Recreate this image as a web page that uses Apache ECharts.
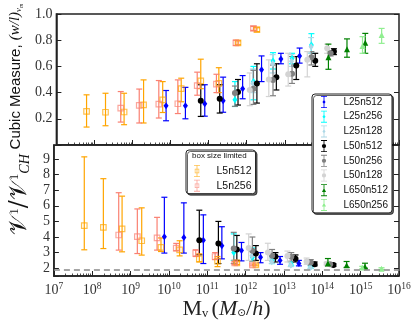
<!DOCTYPE html>
<html>
<head>
<meta charset="utf-8">
<script src="https://cdn.jsdelivr.net/npm/echarts@6/dist/echarts.min.js"></script>
<style>
  html, body { margin: 0; padding: 0; background: #fff; }
  #main { width: 416px; height: 321px; }
</style>
</head>
<body>
<div id="main"></div>
<script>
// ---- data (mass in M_sun/h) ----
const L25n512_mass  = [7.6e9, 2.45e10, 7.9e10, 2.4e11, 7.8e11, 2.45e12, 7.9e12, 2.45e13];
const L25n512_cubic = [0.30, 0.30, 0.315, 0.337, 0.43, 0.574, 0.657, 0.68];
const L25n512_cubicErr = [[0.185,0.416],[0.20,0.44],[0.22,0.46],[0.25,0.518],[0.353,0.53],[0.484,0.68],[0.62,0.70],[0.625,0.74]];
const L25n512_ratio = [4.02, 3.97, 3.8, 3.44, 3.14, 2.7, 2.5, 2.3];
const L25n512_ratioErr = [[2.97,6.55],[2.97,6.19],[2.3,5.42],[2.6,4.66],[2.47,3.65],[2.35,3.0],[2.25,2.75],[2.15,2.5]];

const L25n256_mass  = [4.9e11, 1.5e12, 4.9e12, 1.55e13, 5.0e13];
const L25n256_cubic = [0.345, 0.484, 0.642, 0.66, 0.764];
const L25n256_cubicErr = [[0.294,0.484],[0.345,0.60],[0.58,0.705],[0.62,0.70],[0.70,0.85]];
const L25n256_ratio = [3.0, 2.69, 2.47, 2.26, 2.09];
const L25n256_ratioErr = [[2.5,4.2],[2.45,3.3],[2.3,2.75],[2.15,2.4],[2.0,2.2]];

const L25n128_mass  = [1.45e12, 4.8e12, 1.5e13, 4.9e13];
const L25n128_cubic = [0.47, 0.62, 0.64, 0.75];
const L25n128_cubicErr = [[0.40,0.58],[0.55,0.69],[0.60,0.69],[0.70,0.82]];
const L25n128_ratio = [2.8, 2.42, 2.2, 2.05];
const L25n128_ratioErr = [[2.5,3.1],[2.3,2.6],[2.1,2.35],[1.98,2.15]];

const L50n512_mass  = [6.2e10, 1.95e11, 5.9e11, 1.85e12, 6.0e12, 2.0e13, 6.3e13, 1.95e14];
const L50n512_cubic = [0.337, 0.353, 0.404, 0.47, 0.518, 0.606, 0.644, 0.713];
const L50n512_cubicErr = [[0.218,0.46],[0.244,0.46],[0.305,0.50],[0.32,0.62],[0.42,0.62],[0.50,0.675],[0.60,0.70],[0.69,0.735]];
const L50n512_ratio = [3.8, 3.59, 3.2, 2.94, 2.75, 2.6, 2.26, 2.2];
const L50n512_ratioErr = [[2.86,5.72],[2.3,5.0],[2.5,4.1],[2.5,3.45],[2.4,3.0],[2.4,2.85],[2.15,2.4],[2.12,2.28]];

const L50n256_mass  = [4.9e11, 1.5e12, 4.9e12, 1.55e13, 5.0e13, 1.6e14];
const L50n256_cubic = [0.396, 0.43, 0.497, 0.543, 0.67, 0.70];
const L50n256_cubicErr = [[0.295,0.45],[0.31,0.57],[0.376,0.61],[0.47,0.675],[0.611,0.713],[0.68,0.72]];
const L50n256_ratio = [3.27, 3.12, 2.8, 2.74, 2.36, 2.26];
const L50n256_ratioErr = [[2.3,4.3],[2.47,4.0],[2.47,3.2],[2.45,3.0],[2.2,2.55],[2.18,2.34]];

const L50n128_mass  = [1.2e12, 3.8e12, 1.23e13, 3.9e13, 1.3e14];
const L50n128_cubic = [0.42, 0.50, 0.54, 0.65, 0.739];
const L50n128_cubicErr = [[0.30,0.55],[0.37,0.65],[0.45,0.70],[0.52,0.713],[0.70,0.77]];
const L50n128_ratio = [3.3, 3.0, 2.79, 2.43, 2.28];
const L50n128_ratioErr = [[2.5,4.2],[2.5,3.6],[2.4,3.1],[2.25,2.65],[2.2,2.38]];

const L650n512_mass  = [1.4e14, 4.3e14, 1.3e15];
const L650n512_cubic = [0.67, 0.73, 0.78];
const L650n512_cubicErr = [[0.578,0.77],[0.67,0.81],[0.70,0.852]];
const L650n512_ratio = [2.32, 2.19, 2.1];
const L650n512_ratioErr = [[2.12,2.62],[2.05,2.43],[2.0,2.32]];

const L650n256_mass  = [1.1e15, 3.5e15];
const L650n256_cubic = [0.756, 0.84];
const L650n256_cubicErr = [[0.70,0.827],[0.776,0.89]];
const L650n256_ratio = [2.04, 1.97];
const L650n256_ratioErr = [[1.96,2.12],[1.92,2.03]];

const L5n512_mass  = [6.2e7, 1.95e8, 6.0e8, 1.95e9, 6.2e9, 1.9e10, 6.2e10, 1.85e11, 5.9e11, 1.85e12];
const L5n512_cubic = [0.256, 0.25, 0.252, 0.306, 0.345, 0.43, 0.49, 0.47, 0.78, 0.88];
const L5n512_cubicErr = [[0.137,0.383],[0.147,0.395],[0.155,0.395],[0.168,0.497],[0.248,0.484],[0.33,0.51],[0.43,0.655],[0.40,0.59],[0.765,0.795],[0.865,0.895]];
const L5n512_ratio = [4.73, 4.62, 4.52, 3.76, 3.33, 3.18, 2.6, 2.45, 2.34, 2.21];
const L5n512_ratioErr = [[3.18,9.14],[3.26,7.74],[3.05,6.62],[2.84,5.87],[3.07,3.94],[2.79,3.76],[2.4,2.92],[2.1,2.75],[2.24,2.42],[2.15,2.27]];

const L5n256_mass  = [4.9e8, 1.5e9, 4.9e9, 1.55e10, 5.0e10, 1.6e11, 5.2e11, 1.5e12];
const L5n256_cubic = [0.282, 0.302, 0.312, 0.315, 0.454, 0.465, 0.78, 0.89];
const L5n256_cubicErr = [[0.175,0.408],[0.168,0.427],[0.206,0.492],[0.24,0.497],[0.38,0.556],[0.40,0.54],[0.76,0.80],[0.875,0.905]];
const L5n256_ratio = [4.13, 4.02, 3.94, 3.29, 2.97, 2.75, 2.34, 2.21];
const L5n256_ratioErr = [[3.16,6.84],[2.94,5.8],[3.16,5.26],[3.12,3.59],[2.75,3.18],[2.55,3.0],[2.25,2.42],[2.15,2.27]];

const CH_RATIO_REF = 1.87;   // dashed reference line in lower panel
const X_MIN = 1e7, X_MAX = 1e16;

const sims = [
  { name: 'L25n512',  mass: L25n512_mass,  cubic: L25n512_cubic,  cubicErr: L25n512_cubicErr,  ratio: L25n512_ratio,  ratioErr: L25n512_ratioErr },
  { name: 'L25n256',  mass: L25n256_mass,  cubic: L25n256_cubic,  cubicErr: L25n256_cubicErr,  ratio: L25n256_ratio,  ratioErr: L25n256_ratioErr },
  { name: 'L25n128',  mass: L25n128_mass,  cubic: L25n128_cubic,  cubicErr: L25n128_cubicErr,  ratio: L25n128_ratio,  ratioErr: L25n128_ratioErr },
  { name: 'L50n512',  mass: L50n512_mass,  cubic: L50n512_cubic,  cubicErr: L50n512_cubicErr,  ratio: L50n512_ratio,  ratioErr: L50n512_ratioErr },
  { name: 'L50n256',  mass: L50n256_mass,  cubic: L50n256_cubic,  cubicErr: L50n256_cubicErr,  ratio: L50n256_ratio,  ratioErr: L50n256_ratioErr },
  { name: 'L50n128',  mass: L50n128_mass,  cubic: L50n128_cubic,  cubicErr: L50n128_cubicErr,  ratio: L50n128_ratio,  ratioErr: L50n128_ratioErr },
  { name: 'L650n512', mass: L650n512_mass, cubic: L650n512_cubic, cubicErr: L650n512_cubicErr, ratio: L650n512_ratio, ratioErr: L650n512_ratioErr },
  { name: 'L650n256', mass: L650n256_mass, cubic: L650n256_cubic, cubicErr: L650n256_cubicErr, ratio: L650n256_ratio, ratioErr: L650n256_ratioErr },
  { name: 'L5n512',   mass: L5n512_mass,   cubic: L5n512_cubic,   cubicErr: L5n512_cubicErr,   ratio: L5n512_ratio,   ratioErr: L5n512_ratioErr },
  { name: 'L5n256',   mass: L5n256_mass,   cubic: L5n256_cubic,   cubicErr: L5n256_cubicErr,   ratio: L5n256_ratio,   ratioErr: L5n256_ratioErr }
];

// ---- styles ----
const BAR = 'M1.5 0H8.5V1H1.5Z M4.5 0H5.5V14H4.5Z M1.5 13H8.5V14H1.5Z ';
const ICONS = {
  diamond: BAR + 'M5 4.5L6.8 7L5 9.5L3.2 7Z',
  circle: BAR + 'M5 4.5A2.5 2.5 0 1 1 5 9.5A2.5 2.5 0 1 1 5 4.5Z',
  triangle: BAR + 'M5 4.5L7.4 9H2.6Z',
  square: BAR + 'M2.4 4.4H7.6V9.6H2.4Z M3.2 5.2V8.8H6.8V5.2Z'
};
const styles = {
  L25n512:  { color: '#0000ff', kind: 'diamond',  alpha: 1,   errAlpha: 0.55 },
  L25n256:  { color: '#00ffff', kind: 'diamond',  alpha: 1,   errAlpha: 0.6 },
  L25n128:  { color: '#add8e6', kind: 'diamond',  alpha: 1,   errAlpha: 0.6 },
  L50n512:  { color: '#000000', kind: 'circle',   alpha: 1,   errAlpha: 0.65 },
  L50n256:  { color: '#808080', kind: 'circle',   alpha: 1,   errAlpha: 0.6 },
  L50n128:  { color: '#d3d3d3', kind: 'circle',   alpha: 1,   errAlpha: 0.7 },
  L650n512: { color: '#008000', kind: 'triangle', alpha: 1,   errAlpha: 0.7 },
  L650n256: { color: '#90ee90', kind: 'triangle', alpha: 1,   errAlpha: 0.7 },
  L5n512:   { color: '#ffa500', kind: 'square',   alpha: 0.7, errAlpha: 0.55 },
  L5n256:   { color: '#fa8072', kind: 'square',   alpha: 0.7, errAlpha: 0.55 }
};
const symbolOf = { diamond: 'diamond', circle: 'circle', triangle: 'triangle', square: 'rect' };
const sizeOf = { diamond: [5, 7], circle: 6, triangle: 6, square: 5.5 };

function errRender(params, api) {
  const x = api.value(0);
  const pLo = api.coord([x, api.value(1)]);
  const pHi = api.coord([x, api.value(2)]);
  const half = 3;
  const style = { stroke: api.visual('color'), lineWidth: 1.2 };
  return {
    type: 'group',
    children: [
      { type: 'line', shape: { x1: pLo[0], y1: pLo[1], x2: pHi[0], y2: pHi[1] }, style: style },
      { type: 'line', shape: { x1: pLo[0] - half, y1: pLo[1], x2: pLo[0] + half, y2: pLo[1] }, style: style },
      { type: 'line', shape: { x1: pHi[0] - half, y1: pHi[1], x2: pHi[0] + half, y2: pHi[1] }, style: style }
    ]
  };
}

const series = [];
sims.forEach(function (s) {
  const st = styles[s.name];
  [0, 1].forEach(function (p) {
    const vals = p === 0 ? s.cubic : s.ratio;
    const errs = p === 0 ? s.cubicErr : s.ratioErr;
    series.push({
      type: 'custom',
      name: s.name + ' err',
      xAxisIndex: p, yAxisIndex: p,
      renderItem: errRender,
      itemStyle: { color: st.color, opacity: st.errAlpha },
      encode: { x: 0, y: [1, 2] },
      data: s.mass.map(function (m, i) { return [m, errs[i][0], errs[i][1]]; }),
      z: 2, silent: true
    });
    const hollow = st.kind === 'square';
    series.push({
      type: 'scatter',
      name: s.name,
      xAxisIndex: p, yAxisIndex: p,
      symbol: symbolOf[st.kind],
      symbolSize: sizeOf[st.kind],
      itemStyle: hollow
        ? { color: 'rgba(255,255,255,0)', borderColor: st.color, borderWidth: 1.2, opacity: st.alpha }
        : { color: st.color, opacity: st.alpha },
      data: s.mass.map(function (m, i) { return [m, vals[i]]; }),
      z: 3, silent: true
    });
  });
});
// dashed reference line in the lower panel
series.push({
  type: 'scatter', name: 'ref', xAxisIndex: 1, yAxisIndex: 1, data: [],
  markLine: {
    silent: true, symbol: 'none', label: { show: false },
    lineStyle: { type: [6, 4], color: '#888', width: 1.6 },
    data: [{ yAxis: CH_RATIO_REF }]
  }
});

function legendItem(name) {
  const st = styles[name];
  return { name: name, icon: 'path://' + ICONS[st.kind], itemStyle: { color: st.color, opacity: st.alpha === 1 ? 1 : 0.7, borderWidth: 0 } };
}

const minorTicks = [];
for (let e = 7; e < 16; e++) for (let k = 2; k < 10; k++) minorTicks.push(k * Math.pow(10, e));

const serif = 'Liberation Serif';
const axisCol = '#222';
function logAxis(grid, showLabel) {
  return {
    type: 'log', logBase: 10, gridIndex: grid, min: X_MIN, max: X_MAX, position: 'bottom',
    axisLine: { show: true, lineStyle: { color: axisCol, width: 1.5 } },
    axisTick: { show: true, inside: true, length: 5, lineStyle: { color: axisCol, width: 1 } },
    splitLine: { show: false },
    axisLabel: showLabel ? {
      margin: 5,
      formatter: function (v) { return '{b|10}{s|' + Math.round(Math.log10(v)) + '}'; },
      rich: {
        b: { fontFamily: serif, fontSize: 14, color: '#333' },
        s: { fontFamily: serif, fontSize: 9.5, color: '#333', padding: [0, 0, 8, 0] }
      }
    } : { show: false }
  };
}
function minorAxis(grid) {
  return {
    type: 'log', logBase: 10, gridIndex: grid, min: X_MIN, max: X_MAX, position: 'bottom',
    axisLine: { show: false }, axisLabel: { show: false }, splitLine: { show: false },
    axisTick: { show: true, inside: true, length: 2.5, customValues: minorTicks, lineStyle: { color: axisCol, width: 0.8 } }
  };
}

const option = {
  animation: false,
  backgroundColor: '#fff',
  grid: [
    { left: 44, top: 14, width: 355, height: 131, show: true, borderColor: axisCol, borderWidth: 1.5, backgroundColor: '#fff' },
    { left: 44, top: 145, width: 355, height: 131, show: true, borderColor: axisCol, borderWidth: 1.5, backgroundColor: '#fff' }
  ],
  xAxis: [
    logAxis(0, false),
    Object.assign(logAxis(1, true), {
      name: '{m|M}{v|v} {m|(}{i|M}{o|⊙}{m|/}{i|h}{m|)}',
      nameLocation: 'middle', nameGap: 16,
      nameTextStyle: {
        rich: {
          m: { fontFamily: serif, fontSize: 22, color: '#222' },
          i: { fontFamily: serif, fontStyle: 'italic', fontSize: 22, color: '#222' },
          v: { fontFamily: serif, fontSize: 12.5, color: '#222', padding: [9, 0, 0, 0] },
          o: { fontFamily: 'DejaVu Sans', fontSize: 10.5, color: '#222', padding: [9, 0, 0, 0] }
        }
      }
    }),
    minorAxis(0),
    minorAxis(1)
  ],
  yAxis: [
    {
      type: 'value', gridIndex: 0, min: 0, max: 1, interval: 0.2,
      axisLine: { show: true, lineStyle: { color: axisCol, width: 1.5 } },
      axisTick: { show: true, inside: true, length: 5, lineStyle: { color: axisCol } },
      splitLine: { show: false },
      axisLabel: {
        margin: 4, fontFamily: serif, fontSize: 14, color: '#333',
        formatter: function (v) { return v === 0 ? '' : v.toFixed(1); }
      },
      name: '{a|Cubic Measure, }{m|(w/l)}{s|ν}{t|m}',
      nameLocation: 'middle', nameRotate: 90, nameGap: 26,
      nameTextStyle: {
        padding: [0, 0, 0, 6],
        rich: {
          a: { fontFamily: 'Liberation Sans', fontSize: 15, color: '#111' },
          m: { fontFamily: serif, fontStyle: 'italic', fontSize: 15, color: '#111' },
          s: { fontFamily: serif, fontStyle: 'italic', fontSize: 9, color: '#111', padding: [7, 0, 0, 0] },
          t: { fontFamily: serif, fontStyle: 'italic', fontSize: 6, color: '#111', padding: [11, 0, 0, 0] }
        }
      }
    },
    {
      type: 'value', gridIndex: 1, min: 1.5, max: 9.9, minInterval: 1, maxInterval: 1, splitNumber: 8,
      axisLine: { show: true, lineStyle: { color: axisCol, width: 1.5 } },
      axisTick: { show: true, inside: true, length: 5, lineStyle: { color: axisCol } },
      splitLine: { show: false },
      axisLabel: {
        margin: 4, fontFamily: serif, fontSize: 14, color: '#333',
        formatter: function (v) { return Number.isInteger(v) ? String(v) : ''; }
      },
      name: '{v|𝒱}{p|1}{v|/𝒱}{p|1}{b|CH}',
      nameLocation: 'middle', nameRotate: 90, nameGap: 17,
      nameTextStyle: {
        padding: [0, 0, 0, 32],
        rich: {
          v: { fontFamily: 'DejaVu Serif', fontSize: 24, color: '#111' },
          p: { fontFamily: serif, fontSize: 13, color: '#111', padding: [0, 0, 10, 0] },
          b: { fontFamily: serif, fontStyle: 'italic', fontSize: 14, color: '#111', padding: [10, 0, 0, 0] }
        }
      }
    },
    {
      type: 'value', gridIndex: 0, min: 0, max: 1, interval: 0.2, position: 'right',
      axisLine: { show: false }, axisLabel: { show: false }, splitLine: { show: false },
      axisTick: { show: true, inside: true, length: 5, lineStyle: { color: axisCol } }
    },
    {
      type: 'value', gridIndex: 1, min: 1.5, max: 9.9, minInterval: 1, maxInterval: 1, splitNumber: 8, position: 'right',
      axisLine: { show: false }, axisLabel: { show: false }, splitLine: { show: false },
      axisTick: { show: true, inside: true, length: 5, lineStyle: { color: axisCol } }
    }
  ],
  legend: [
    {
      left: 312, top: 94, orient: 'vertical',
      itemWidth: 29, itemHeight: 12, itemGap: 2.7, symbolKeepAspect: true,
      padding: [2, 4, 2, 9],
      backgroundColor: '#fff', borderColor: '#222', borderWidth: 1, borderRadius: 3,
      shadowColor: 'rgba(0,0,0,0.6)', shadowOffsetX: 1.5, shadowOffsetY: 1.5, shadowBlur: 0,
      textStyle: { fontFamily: 'Liberation Sans', fontSize: 10, color: '#111' },
      data: ['L25n512', 'L25n256', 'L25n128', 'L50n512', 'L50n256', 'L50n128', 'L650n512', 'L650n256'].map(legendItem),
      selectedMode: false
    },
    {
      left: 186, top: 150, orient: 'vertical',
      itemWidth: 29, itemHeight: 12, itemGap: 2.7, symbolKeepAspect: true,
      padding: [15, 4, 2, 8],
      backgroundColor: '#fff', borderColor: '#222', borderWidth: 1, borderRadius: 3,
      shadowColor: 'rgba(0,0,0,0.6)', shadowOffsetX: 1.5, shadowOffsetY: 1.5, shadowBlur: 0,
      textStyle: { fontFamily: 'Liberation Sans', fontSize: 10.5, color: '#111' },
      data: ['L5n512', 'L5n256'].map(legendItem),
      selectedMode: false
    }
  ],
  graphic: [
    {
      type: 'text', left: 192, top: 152, z: 100,
      style: { text: 'box size limited', fontFamily: 'Liberation Sans', fontSize: 8, fill: '#111' }
    }
  ],
  series: series
};

const chart = echarts.init(document.getElementById('main'), null, { renderer: 'canvas' });
chart.setOption(option);
</script>
</body>
</html>
